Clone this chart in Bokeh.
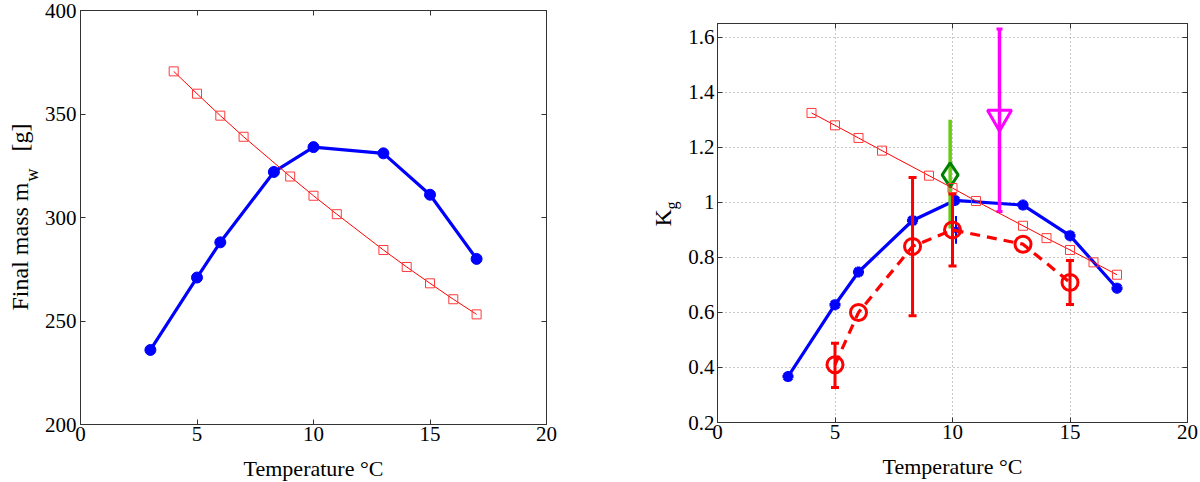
from bokeh.plotting import figure
from bokeh.layouts import row
from bokeh.models import LinearAxis, Range1d
from bokeh.core.properties import value
from bokeh.embed import file_html
from bokeh.resources import INLINE
import math

# ---------------- data: left panel ----------------
mass_T = [3, 5, 6, 8.3, 10, 13, 15, 17]
mass_val = [236, 271, 288, 322, 334, 331, 311, 280]
mass_ref_T = [4, 5, 6, 7, 9, 10, 11, 13, 14, 15, 16, 17]
mass_ref_val = [370.6, 359.8, 349.2, 339.0, 319.8, 310.5, 301.6, 284.3, 276.1, 268.2, 260.5, 253.2]

# ---------------- data: right panel ----------------
kg_T = [3, 5, 6, 8.3, 10.1, 13, 15, 17]
kg_val = [0.367, 0.628, 0.747, 0.934, 1.007, 0.99, 0.879, 0.688]
kg_ref_T = [4, 5, 6, 7, 9, 10, 11, 13, 14, 15, 16, 17]
kg_ref_val = [1.325, 1.28, 1.234, 1.188, 1.097, 1.052, 1.005, 0.915, 0.870, 0.827, 0.782, 0.737]
meas_T = [5, 6, 8.3, 10, 13, 15]
meas_val = [0.41, 0.60, 0.84, 0.90, 0.848, 0.709]
meas_err_T = [5, 8.3, 10, 15]
meas_lo = [0.327, 0.588, 0.769, 0.629]
meas_hi = [0.488, 1.09, 1.03, 0.789]
blue_extra_T = [10.15]
blue_extra_val = [0.90]
blue_extra_lo = [0.85]
blue_extra_hi = [0.95]
green_T = [9.9]
green_val = [1.10]
green_lo = [0.905]
green_hi = [1.30]
mag_T = [12]
mag_val = [1.31]
mag_lo = [0.967]
mag_hi = [1.63]

x_ticks = [0, 5, 10, 15, 20]
mass_ticks = [200, 250, 300, 350, 400]
kg_ticks = [0.2, 0.4, 0.6, 0.8, 1.0, 1.2, 1.4, 1.6]
kg_tick_text = ["0.2", "0.4", "0.6", "0.8", "1", "1.2", "1.4", "1.6"]

# axis-title pieces: (text, font size)
mass_label_parts = [("Final mass m", "24px"), ("w", "18px"), ("[g]", "24px")]
kg_label_parts = [("K", "24px"), ("g", "16px")]

FONT = "Liberation Serif"
AX = "#333333"
BLUE = "#0000ff"
RED = "#ff0000"
H = 482


def style(p, yticks, ylabels):
    bx, ly = p.below[0], p.left[0]
    p.outline_line_color = AX
    p.outline_line_width = 1
    p.frame_align = False
    for ax in (bx, ly):
        ax.axis_line_color = AX
        ax.major_tick_line_color = AX
        ax.major_tick_in = 5
        ax.major_tick_out = 0
        ax.minor_tick_line_color = None
        ax.major_label_text_font = FONT
        ax.major_label_text_font_size = "21px"
        ax.major_label_text_color = "black"
        ax.axis_label_text_font = FONT
        ax.axis_label_text_font_size = "22px"
        ax.axis_label_text_font_style = "normal"
        ax.axis_label_text_color = "black"
    bx.ticker = x_ticks
    ly.ticker = yticks
    ly.major_label_overrides = ylabels
    bx.major_label_standoff = 2
    ly.major_label_standoff = 4
    bx.axis_label = "Temperature \u00b0C"
    bx.axis_label_standoff = 12
    top = LinearAxis(ticker=x_ticks, major_label_overrides={t: "" for t in x_ticks},
                     major_label_standoff=0, major_tick_in=5, major_tick_out=0,
                     minor_tick_line_color=None, axis_line_color=AX,
                     major_tick_line_color=AX)
    right = LinearAxis(ticker=yticks, major_label_overrides={t: "" for t in yticks},
                       major_label_standoff=0, major_tick_in=5, major_tick_out=0,
                       minor_tick_line_color=None, axis_line_color=AX,
                       major_tick_line_color=AX)
    p.add_layout(top, "above")
    p.add_layout(right, "right")


def label_strip(w, x0, parts, positions):
    """A bare figure holding a vertical axis title; positions are page pixels."""
    f = figure(width=w, height=H, x_range=Range1d(0, w), y_range=Range1d(0, H),
               min_border=0, x_axis_location=None, y_axis_location=None,
               output_backend="svg", toolbar_location=None)
    f.frame_align = False
    f.outline_line_color = None
    f.grid.visible = False
    f.background_fill_color = None
    f.border_fill_color = None
    for (txt, size), (px, py) in zip(parts, positions):
        f.text([px - x0], [H - py], text=[txt], angle=math.pi / 2,
               text_font=value(FONT), text_font_size=size, text_align="left",
               text_baseline="alphabetic", text_color="black")
    return f


# ================= left y-title strip =================
LAB1_W = 40
lab1 = label_strip(LAB1_W, 0, mass_label_parts, [(19, 310), (31, 181), (19, 151)])

# ================= left figure =================
L_FW, L_FH, L_TB, L_RB = 466, 414, 10, 82
L_LB = 80 - LAB1_W
p1 = figure(frame_width=L_FW, frame_height=L_FH, x_range=Range1d(0, 20),
            y_range=Range1d(200, 400), min_border_left=L_LB, min_border_right=L_RB,
            min_border_top=L_TB, min_border_bottom=H - L_TB - L_FH,
            output_backend="svg", toolbar_location=None)
p1.grid.visible = False
style(p1, mass_ticks, {v: str(v) for v in mass_ticks})

p1.line(mass_T, mass_val, line_color=BLUE, line_width=3.2)
p1.scatter(mass_T, mass_val, marker="circle", size=11, fill_color=BLUE, line_color=BLUE)
p1.line(mass_ref_T, mass_ref_val, line_color=RED, line_width=1)
p1.scatter(mass_ref_T, mass_ref_val, marker="square", size=9, fill_color=None,
           line_color="#ff3b3b", line_width=1)

# ================= right y-title strip =================
LAB2_X0 = LAB1_W + L_LB + L_FW + L_RB
LAB2_W = 56
lab2 = label_strip(LAB2_W, LAB2_X0, kg_label_parts, [(662, 226), (671, 209)])

# ================= right figure =================
R_FW, R_FH, R_TB = 470, 399, 23
R_LB = 717 - LAB2_X0 - LAB2_W
p2 = figure(frame_width=R_FW, frame_height=R_FH, x_range=Range1d(0, 20),
            y_range=Range1d(0.2, 1.65), min_border_left=R_LB,
            min_border_right=12, min_border_top=R_TB, min_border_bottom=H - R_TB - R_FH,
            output_backend="svg", toolbar_location=None)
style(p2, kg_ticks, dict(zip(kg_ticks, kg_tick_text)))
p2.left[0].major_label_standoff = 3
p2.xgrid.ticker = [5, 10, 15]
p2.ygrid.ticker = kg_ticks[1:]
p2.grid.grid_line_color = "#909090"
p2.grid.grid_line_dash = "1 3"
p2.grid.grid_line_width = 1

# blue model
p2.line(kg_T, kg_val, line_color=BLUE, line_width=3.2)
p2.scatter(kg_T, kg_val, marker="asterisk", size=11, line_color=BLUE, line_width=3.5)
p2.segment(blue_extra_T, blue_extra_lo, blue_extra_T, blue_extra_hi, line_color=BLUE, line_width=2)
p2.scatter(blue_extra_T, blue_extra_val, marker="asterisk", size=9, line_color=BLUE, line_width=2)

# green
p2.segment(green_T, green_lo, green_T, green_hi, line_color="#66cc11", line_width=3.5)

# red measured
p2.line(meas_T, meas_val, line_color=RED, line_width=3.2, line_dash="10 7")
p2.segment(meas_err_T, meas_lo, meas_err_T, meas_hi, line_color=RED, line_width=3)
p2.scatter(meas_err_T, meas_lo, marker="dash", size=8, line_color=RED, line_width=3)
p2.scatter(meas_err_T, meas_hi, marker="dash", size=8, line_color=RED, line_width=3)
p2.scatter(meas_T, meas_val, marker="circle", size=16, fill_color=None,
           line_color=RED, line_width=3)

# magenta
p2.segment(mag_T, mag_lo, mag_T, mag_hi, line_color="#ff00ff", line_width=3.5)
p2.scatter(mag_T, mag_lo, marker="dash", size=6, line_color="#ff00ff", line_width=3)
p2.scatter(mag_T, mag_hi, marker="dash", size=6, line_color="#ff00ff", line_width=3)
p2.scatter(mag_T, mag_val, marker="inverted_triangle", size=24, fill_color=None,
           line_color="#ff00ff", line_width=3)

# green diamond
p2.scatter(green_T, green_val, marker="diamond", size=24, fill_color=None,
           line_color="#008000", line_width=3)

# reference line
p2.line(kg_ref_T, kg_ref_val, line_color=RED, line_width=1)
p2.scatter(kg_ref_T, kg_ref_val, marker="square", size=9, fill_color=None,
           line_color="#ff3b3b", line_width=1)

layout = row(lab1, p1, lab2, p2)
open("out.html", "w").write(file_html(layout, INLINE))
